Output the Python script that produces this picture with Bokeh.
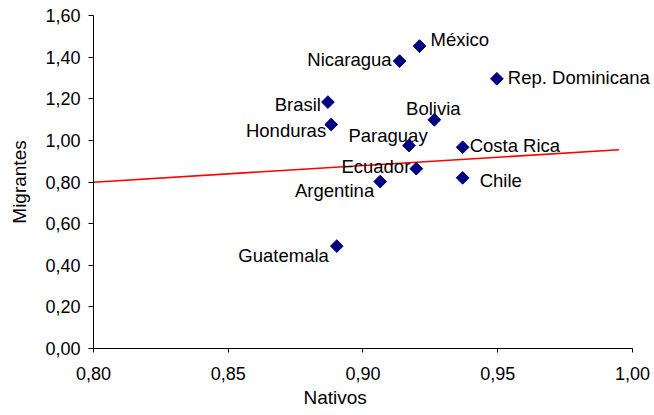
from bokeh.plotting import figure
from bokeh.models import ColumnDataSource, FixedTicker, Range1d, Title
from bokeh.core.properties import value
from bokeh.embed import file_html
from bokeh.resources import INLINE
import math

# ---- data ----
countries = ["México", "Nicaragua", "Rep. Dominicana", "Brasil", "Bolivia", "Honduras",
             "Paraguay", "Costa Rica", "Ecuador", "Argentina", "Chile", "Guatemala"]
nativos = [0.921, 0.9136, 0.9497, 0.887, 0.9265, 0.8882,
           0.9171, 0.937, 0.9198, 0.9064, 0.937, 0.8903]
migrantes = [1.453, 1.381, 1.296, 1.184, 1.099, 1.076,
             0.975, 0.967, 0.864, 0.802, 0.820, 0.492]
trend_x = [0.80, 0.995]
trend_y = [0.799, 0.955]
x_ticks = [0.80, 0.85, 0.90, 0.95, 1.00]
x_tick_labels = ["0,80", "0,85", "0,90", "0,95", "1,00"]
y_ticks = [0.0, 0.2, 0.4, 0.6, 0.8, 1.0, 1.2, 1.4, 1.6]
y_tick_labels = ["0,00", "0,20", "0,40", "0,60", "0,80", "1,00", "1,20", "1,40", "1,60"]

# ---- label placement (screen px) ----
placement = {
    "México": ("left", 11, -7),
    "Nicaragua": ("right", -8, -2),
    "Rep. Dominicana": ("left", 11, -1),
    "Brasil": ("right", -7, 2),
    "Bolivia": ("center", -1, -11),
    "Honduras": ("right", -5, 6),
    "Paraguay": ("center", -21, -10),
    "Costa Rica": ("left", 7, -2),
    "Ecuador": ("right", -6, -2),
    "Argentina": ("right", -6, 9),
    "Chile": ("left", 17, 3),
    "Guatemala": ("right", -8, 9),
}

FONT = "Liberation Sans"

src = ColumnDataSource(dict(
    x=nativos, y=migrantes, name=countries,
    align=[placement[c][0] for c in countries],
    dx=[placement[c][1] for c in countries],
    dy=[placement[c][2] for c in countries],
))

# frame spans to the right edge so labels are not clipped; axis bounded to 0.80-1.00
p = figure(width=654, height=415, output_backend="svg", toolbar_location=None,
           x_range=Range1d(0.80, 1.0082), y_range=Range1d(0.0, 1.60),
           min_border_left=93, min_border_right=0, min_border_top=15, min_border_bottom=67)
p.outline_line_color = None
p.xgrid.visible = False
p.ygrid.visible = False
p.background_fill_color = "white"
p.border_fill_color = "white"

p.line(trend_x, trend_y, line_color="#FF0000", line_width=1.6)
p.scatter("x", "y", source=src, marker="square", angle=math.pi / 4, size=9,
          fill_color="#000080", line_color="#000080")
p.text("x", "y", text="name", source=src, text_align="align", text_baseline="middle",
       x_offset="dx", y_offset="dy", text_font=value(FONT), text_font_size="18.5px",
       text_color="black")

p.xaxis.ticker = FixedTicker(ticks=x_ticks)
p.xaxis.major_label_overrides = {t: l for t, l in zip(x_ticks, x_tick_labels)}
p.xaxis.bounds = (0.80, 1.00)
p.yaxis.ticker = FixedTicker(ticks=y_ticks)
p.yaxis.major_label_overrides = {t: l for t, l in zip(y_ticks, y_tick_labels)}

for ax in (p.xaxis, p.yaxis):
    ax.axis_line_color = "black"
    ax.major_tick_line_color = "black"
    ax.minor_tick_line_color = None
    ax.major_tick_in = 0
    ax.major_tick_out = 5
    ax.major_label_text_font = FONT
    ax.major_label_text_font_size = "18px"
    ax.major_label_text_color = "black"
    ax.axis_label_text_font = FONT
    ax.axis_label_text_font_size = "19px"
    ax.axis_label_text_font_style = "normal"
    ax.axis_label_text_color = "black"

p.yaxis.axis_label = "Migrantes"
p.yaxis.major_label_standoff = 8
p.yaxis.axis_label_standoff = 12
p.xaxis.major_tick_out = 4
p.xaxis.major_label_standoff = 14

p.add_layout(Title(text="Nativos", align="left", offset=210, text_font=FONT,
                   text_font_size="19px", text_font_style="normal", text_color="black",
                   standoff=4), "below")

open("out.html", "w").write(file_html(p, INLINE))
